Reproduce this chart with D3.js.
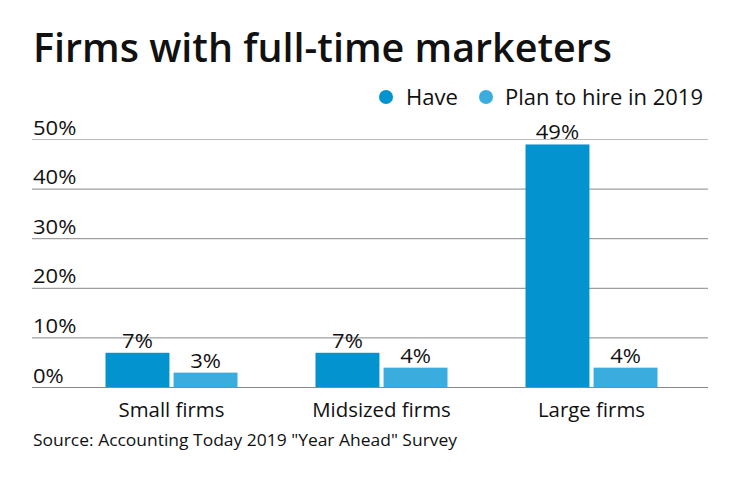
<!DOCTYPE html>
<html>
<head>
<meta charset="utf-8">
<script src="https://cdn.jsdelivr.net/npm/d3@7"></script>
<style>
  body { margin: 0; background: #fff; }
  text { font-family: "Open Sans", Lato, sans-serif; fill: #111; }
</style>
</head>
<body>
<div id="chart"></div>
<script>
var categories = ['Small firms', 'Midsized firms', 'Large firms'];
var seriesNames = ['Have', 'Plan to hire in 2019'];
var haveValues = [7, 7, 49];
var planValues = [3, 4, 4];
var yTicks = [0, 10, 20, 30, 40, 50];

var colors = ['#0393cf', '#3aacde'];

var width = 740, height = 482;
var svg = d3.select('#chart').append('svg')
  .attr('width', width)
  .attr('height', height);

// stretch a text to the width
function fit(sel, w) {
  sel.attr('textLength', w).attr('lengthAdjust', 'spacingAndGlyphs');
}
// widen by a factor, the original face is broader than Open Sans
function widen(sel, k) {
  sel.each(function() {
    var w = this.getComputedTextLength();
    d3.select(this).attr('textLength', w * k).attr('lengthAdjust', 'spacingAndGlyphs');
  });
}

svg.append('text')
  .attr('x', 33)
  .attr('y', 62)
  .style('font-size', '40px')
  .style('font-weight', '600')
  .text('Firms with full-time marketers')
  .call(fit, 579);

// legend
var legendItems = [
  { name: seriesNames[0], cx: 386, tx: 406, w: 52 },
  { name: seriesNames[1], cx: 486, tx: 505, w: 198 }
];
var legend = svg.append('g');
legendItems.forEach(function(d, i) {
  legend.append('circle')
    .attr('cx', d.cx)
    .attr('cy', 97)
    .attr('r', 7)
    .attr('fill', colors[i]);
  legend.append('text')
    .attr('x', d.tx)
    .attr('y', 105)
    .style('font-size', '21px')
    .text(d.name)
    .call(fit, d.w);
});

var yScale = d3.scaleLinear()
  .domain([0, 50])
  .range([387.5, 139.5]);

var xScale = d3.scaleBand()
  .domain(categories)
  .range([66.5, 696.5])
  .paddingInner(0.3714)
  .paddingOuter(0.1857);

var inner = d3.scaleBand()
  .domain(seriesNames)
  .range([0, xScale.bandwidth()])
  .paddingInner(0.0606);

// gridlines
svg.append('g')
  .selectAll('line')
  .data(yTicks)
  .join('line')
  .attr('x1', 32)
  .attr('x2', 708)
  .attr('y1', function(d) { return yScale(d); })
  .attr('y2', function(d) { return yScale(d); })
  .attr('stroke', function(d) { return d === 50 ? '#bbb' : '#888'; })
  .attr('stroke-width', 1);

svg.append('g')
  .selectAll('text')
  .data(yTicks)
  .join('text')
  .attr('x', 33)
  .attr('y', function(d) { return yScale(d) - 5; })
  .style('font-size', '20px')
  .text(function(d) { return d + '%'; })
  .call(widen, 1.1);

var rows = [];
categories.forEach(function(c, i) {
  rows.push({ cat: c, series: seriesNames[0], value: haveValues[i], color: colors[0] });
  rows.push({ cat: c, series: seriesNames[1], value: planValues[i], color: colors[1] });
});

var bars = svg.append('g');
bars.selectAll('rect')
  .data(rows)
  .join('rect')
  .attr('x', function(d) { return xScale(d.cat) + inner(d.series); })
  .attr('y', function(d) { return yScale(d.value); })
  .attr('width', inner.bandwidth())
  .attr('height', function(d) { return yScale(0) - yScale(d.value); })
  .attr('fill', function(d) { return d.color; });

bars.selectAll('text')
  .data(rows)
  .join('text')
  .attr('x', function(d) { return xScale(d.cat) + inner(d.series) + inner.bandwidth() / 2; })
  .attr('y', function(d) { return yScale(d.value) - 5; })
  .attr('text-anchor', 'middle')
  .style('font-size', '20px')
  .text(function(d) { return d.value + '%'; })
  .call(widen, 1.1);

// baseline over bars
svg.append('line')
  .attr('x1', 32).attr('x2', 708)
  .attr('y1', yScale(0)).attr('y2', yScale(0))
  .attr('stroke', '#888');

svg.append('g')
  .selectAll('text')
  .data(categories)
  .join('text')
  .attr('x', function(d) { return xScale(d) + xScale.bandwidth() / 2; })
  .attr('y', 417)
  .attr('text-anchor', 'middle')
  .style('font-size', '20px')
  .text(function(d) { return d; })
  .call(widen, 1.02);

svg.append('text')
  .attr('x', 33)
  .attr('y', 446)
  .style('font-size', '16px')
  .text('Source: Accounting Today 2019 "Year Ahead" Survey')
  .call(fit, 424);
</script>
</body>
</html>
